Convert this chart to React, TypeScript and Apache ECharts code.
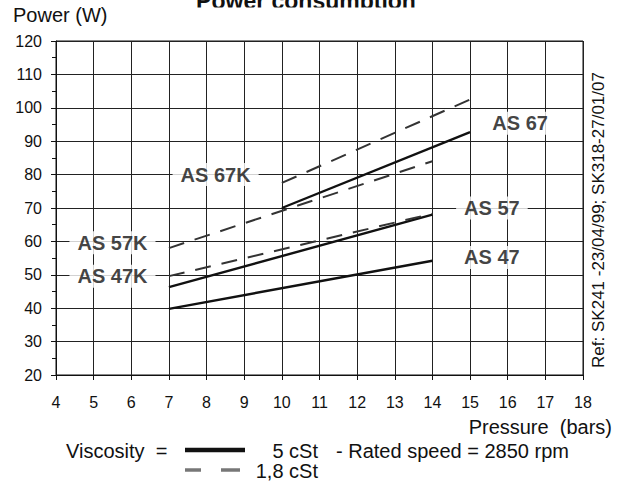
import React, { useEffect, useRef } from "react";
import * as echarts from "echarts";

// ---- Data ----
const xTicks = [4, 18]; // pressure axis range (bars)
const yTicks = [20, 120]; // power axis range (W)

// 5 cSt (solid)
const as67Solid = [[10, 70], [15, 92.7]];
const as57Solid = [[7, 46.3], [14, 68]];
const as47Solid = [[7, 39.8], [14, 54.2]];
// 1,8 cSt (dashed)
const as67KDash = [[10, 77.5], [15, 102.5]];
const as57KDash = [[7, 58], [14, 84]];
const as47KDash = [[7, 49.6], [14, 68.3]];

// curve-name annotations, anchored in data coordinates
const annotationNames = ["AS 67", "AS 57", "AS 47", "AS 67K", "AS 57K", "AS 47K"];
const annotationX = [16.33, 15.58, 15.58, 8.24, 5.5, 5.5];
const annotationY = [95.4, 70, 55.2, 80, 59.6, 49.6];

const FONT = "'Liberation Sans', Arial, Helvetica, sans-serif";

export default function App() {
  const ref = useRef<HTMLDivElement>(null);

  useEffect(() => {
    if (!ref.current) return;
    const chart = echarts.init(ref.current, null, { renderer: "svg" });

    const solid = (data: number[][]) => ({
      type: "line",
      data,
      symbol: "none",
      silent: true,
      z: 3,
      lineStyle: { color: "#111", width: 2.4, type: "solid" },
    });
    const dashed = (data: number[][]) => ({
      type: "line",
      data,
      symbol: "none",
      silent: true,
      z: 3,
      lineStyle: { color: "#333", width: 2, type: [16, 11] },
    });

    const option: any = {
      animation: false,
      backgroundColor: "#fff",
      textStyle: { fontFamily: FONT },
      grid: {
        left: 56,
        right: 39,
        top: 41,
        bottom: 111,
        show: true,
        borderColor: "#111",
        borderWidth: 1,
        backgroundColor: "transparent",
      },
      xAxis: {
        type: "value",
        min: xTicks[0],
        max: xTicks[1],
        interval: 1,
        axisLine: { show: true, lineStyle: { color: "#111", width: 1 } },
        axisTick: { show: true, length: 5, lineStyle: { color: "#111" } },
        axisLabel: { color: "#111", fontSize: 16, margin: 19, fontFamily: FONT },
        splitLine: { show: true, lineStyle: { color: "#222", width: 1 } },
      },
      yAxis: {
        type: "value",
        min: yTicks[0],
        max: yTicks[1],
        interval: 10,
        axisLine: { show: true, lineStyle: { color: "#111", width: 1 } },
        axisTick: { show: true, length: 5, lineStyle: { color: "#111" } },
        minorTick: { show: true, splitNumber: 2, length: 4, lineStyle: { color: "#111" } },
        axisLabel: { color: "#111", fontSize: 16, margin: 14, fontFamily: FONT },
        splitLine: { show: true, lineStyle: { color: "#222", width: 1 } },
      },
      series: [
        solid(as67Solid),
        solid(as57Solid),
        solid(as47Solid),
        dashed(as67KDash),
        dashed(as57KDash),
        dashed(as47KDash),
        {
          type: "scatter",
          silent: true,
          z: 10,
          symbolSize: 1,
          itemStyle: { color: "transparent" },
          data: annotationNames.map((n, i) => ({ name: n, value: [annotationX[i], annotationY[i]] })),
          label: {
            show: true,
            position: "inside",
            formatter: (p: any) => p.name,
            fontFamily: FONT,
            fontSize: 20,
            fontWeight: "bold",
            color: "#111",
            backgroundColor: "#fff",
            padding: [2, 8, 1, 8],
          },
        },
      ],
      graphic: [
        {
          type: "text",
          x: 306,
          y: 12,
          z: 20,
          style: {
            text: "Power consumption",
            font: `bold 23px ${FONT}`,
            fill: "#111",
            align: "center",
            verticalAlign: "bottom",
          },
        },
        {
          type: "rect",
          z: 21,
          shape: { x: 180, y: 7.5, width: 260, height: 10 },
          style: { fill: "#fff" },
        },
        {
          type: "text",
          x: 13,
          y: 15,
          style: {
            text: "Power (W)",
            font: `20px ${FONT}`,
            fill: "#111",
            align: "left",
            verticalAlign: "middle",
          },
        },
        {
          type: "text",
          x: 612,
          y: 427,
          style: {
            text: "Pressure  (bars)",
            font: `20px ${FONT}`,
            fill: "#111",
            align: "right",
            verticalAlign: "middle",
          },
        },
        {
          type: "text",
          x: 66,
          y: 451,
          style: {
            text: "Viscosity  =",
            font: `20px ${FONT}`,
            fill: "#111",
            align: "left",
            verticalAlign: "middle",
          },
        },
        {
          type: "line",
          shape: { x1: 185, y1: 450, x2: 245, y2: 450 },
          style: { stroke: "#111", lineWidth: 4.5 },
        },
        {
          type: "text",
          x: 318,
          y: 451,
          style: {
            text: "5 cSt",
            font: `20px ${FONT}`,
            fill: "#111",
            align: "right",
            verticalAlign: "middle",
          },
        },
        {
          type: "text",
          x: 336,
          y: 451,
          style: {
            text: "- Rated speed = 2850 rpm",
            font: `20px ${FONT}`,
            fill: "#111",
            align: "left",
            verticalAlign: "middle",
          },
        },
        {
          type: "line",
          shape: { x1: 185, y1: 470, x2: 201, y2: 470 },
          style: { stroke: "#777", lineWidth: 3.5 },
        },
        {
          type: "line",
          shape: { x1: 221, y1: 470, x2: 240, y2: 470 },
          style: { stroke: "#777", lineWidth: 3.5 },
        },
        {
          type: "text",
          x: 318,
          y: 471,
          style: {
            text: "1,8 cSt",
            font: `20px ${FONT}`,
            fill: "#111",
            align: "right",
            verticalAlign: "middle",
          },
        },
        {
          type: "text",
          x: 598,
          y: 220,
          rotation: Math.PI / 2,
          style: {
            text: "Ref: SK241 -23/04/99; SK318-27/01/07",
            font: `17px ${FONT}`,
            fill: "#111",
            align: "center",
            verticalAlign: "middle",
          },
        },
      ],
    };

    chart.setOption(option);
    return () => chart.dispose();
  }, []);

  return (
    <div
      ref={ref}
      style={{ position: "fixed", left: 0, top: 0, width: 622, height: 486, background: "#fff" }}
    />
  );
}
